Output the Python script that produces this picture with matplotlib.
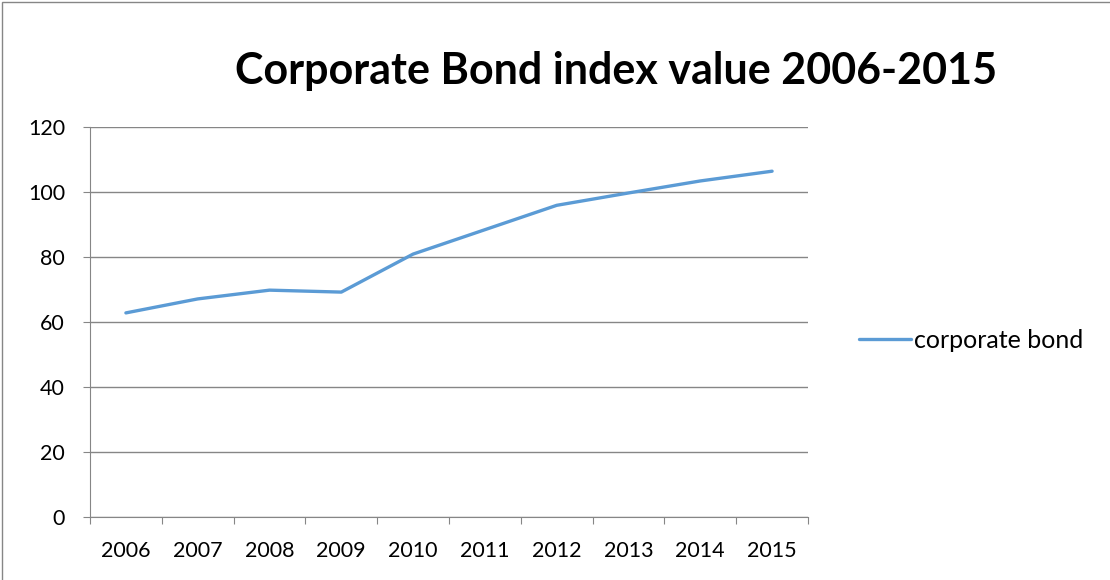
import matplotlib.pyplot as plt
from matplotlib.patches import Rectangle

years = ['2006', '2007', '2008', '2009', '2010', '2011', '2012', '2013', '2014', '2015']
corporate_bond = [62.8, 67.1, 69.8, 69.2, 80.9, 88.4, 95.9, 99.7, 103.4, 106.4]
y_ticks = [0, 20, 40, 60, 80, 100, 120]

plt.rcParams['font.family'] = ['Lato', 'DejaVu Sans']

fig = plt.figure(figsize=(11.1, 5.8), dpi=100)
ax = fig.add_axes([90 / 1110, 1 - 517 / 580, 718 / 1110, 390 / 580])

x = list(range(len(years)))
ax.plot(x, corporate_bond, color='#5B9BD5', lw=2.4, label='corporate bond',
        solid_capstyle='round')

ax.set_xlim(-0.5, len(years) - 0.5)
ax.set_ylim(0, 120)
ax.set_yticks(y_ticks)
ax.set_yticklabels([str(v) for v in y_ticks], fontsize=15.5)
ax.set_xticks([i - 0.5 for i in range(len(years) + 1)])
ax.set_xticklabels([])
ax.set_xticks(x, minor=True)
ax.set_xticklabels(years, minor=True, fontsize=15.5)
ax.tick_params(axis='x', which='minor', length=0, pad=17)
ax.tick_params(axis='x', which='major', length=5, color='#868686')
ax.tick_params(axis='y', length=5, color='#868686', pad=13)
ax.grid(axis='y', color='#868686', lw=1)
ax.set_axisbelow(True)
for side in ['top', 'right']:
    ax.spines[side].set_visible(False)
for side in ['left', 'bottom']:
    ax.spines[side].set_color('#868686')

fig.text(616 / 1110, 1 - 71 / 580, 'Corporate Bond index value 2006-2015',
         ha='center', va='center', fontsize=31, fontweight='bold')

# legend sits outside the plot area, to the right
ax.legend(loc='center left', bbox_to_anchor=(836 / 1110, 1 - 340 / 580),
          bbox_transform=fig.transFigure, frameon=False, fontsize=18,
          handlelength=2.1, handletextpad=0.1)

fig.add_artist(Rectangle((0.002, -0.01), 1.2, 1.007, transform=fig.transFigure,
                         fill=False, edgecolor='#868686', lw=1))

fig.savefig('out.png', dpi=100)
